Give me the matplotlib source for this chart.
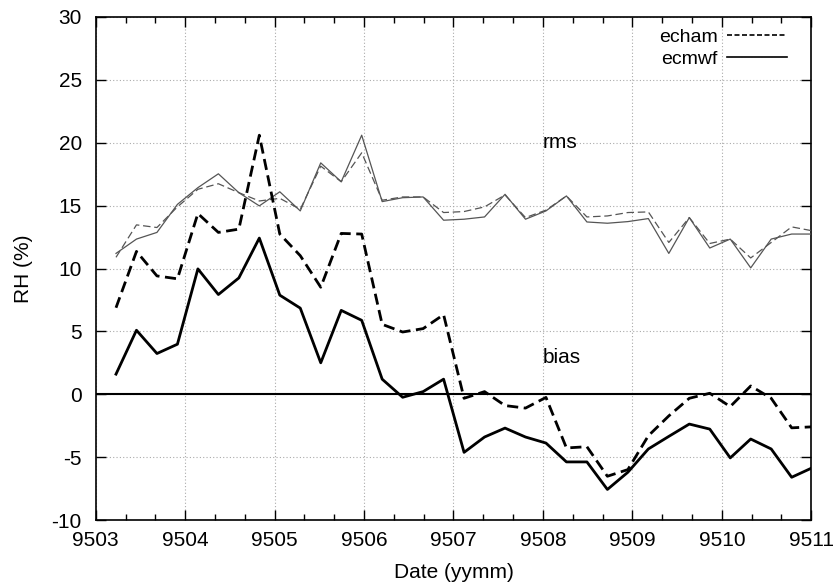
import numpy as np
import matplotlib
matplotlib.use("Agg")
import matplotlib.pyplot as plt
from matplotlib.ticker import MultipleLocator

plt.rcParams['font.family'] = ['Liberation Sans', 'DejaVu Sans']

# weekly samples, x in yymm month units
n_weeks = 35
x_start = 9503.227
week_step = 0.2289
x = x_start + week_step * np.arange(n_weeks)

bias_ecmwf = [1.6, 5.09, 3.24, 3.98, 9.97, 7.93, 9.25, 12.42, 7.88, 6.85,
              2.5, 6.67, 5.88, 1.2, -0.24, 0.21, 1.2, -4.62, -3.4, -2.69,
              -3.4, -3.88, -5.38, -5.38, -7.57, -6.2, -4.35, -3.35, -2.37, -2.77,
              -5.06, -3.56, -4.35, -6.6, -5.85]
bias_echam = [6.88, 11.36, 9.41, 9.18, 14.37, 12.87, 13.13, 20.6, 12.74, 11.02,
              8.51, 12.79, 12.74, 5.56, 4.95, 5.22, 6.33, -0.32, 0.21, -0.9,
              -1.1, -0.25, -4.27, -4.17, -6.52, -5.99, -3.3, -1.72, -0.32, 0.08,
              -0.98, 0.66, -0.32, -2.67, -2.59]
rms_ecmwf = [11.2, 12.34, 12.87, 15.1, 16.43, 17.53, 16.03, 14.98, 16.1, 14.58,
             18.4, 16.9, 20.6, 15.32, 15.63, 15.69, 13.84, 13.92, 14.1, 15.9,
             13.92, 14.58, 15.77, 13.7, 13.6, 13.73, 13.97, 11.2, 14.05, 11.63,
             12.34, 10.05, 12.34, 12.74, 12.74]
rms_echam = [10.89, 13.47, 13.26, 14.9, 16.3, 16.74, 16.03, 15.37, 15.58, 14.71,
             18.14, 16.9, 19.2, 15.43, 15.69, 15.69, 14.45, 14.53, 14.9, 15.85,
             14.05, 14.64, 15.77, 14.1, 14.18, 14.45, 14.5, 12.07, 14.05, 11.99,
             12.34, 10.84, 12.07, 13.31, 13.0]

xticks = [9503, 9504, 9505, 9506, 9507, 9508, 9509, 9510, 9511]
yticks = [-10, -5, 0, 5, 10, 15, 20, 25, 30]

fig = plt.figure(figsize=(8.35, 5.86), dpi=100)
ax = fig.add_axes([0.1146, 0.1126, 0.9716 - 0.1146, 0.971 - 0.1126])

ax.axhline(0, color='black', lw=1.5, zorder=2)

ax.plot(x, rms_echam, color='#555555', lw=0.9, dashes=(6, 3), zorder=3)
ax.plot(x, rms_ecmwf, color='#555555', lw=0.9, zorder=3)
ax.plot(x, bias_echam, color='black', lw=2.0, dashes=(4, 2), zorder=4)
ax.plot(x, bias_ecmwf, color='black', lw=2.0, zorder=4)

# legend proxies
ax.plot([], [], color='black', lw=1.2, dashes=(3, 1.5), label='echam')
ax.plot([], [], color='black', lw=1.2, label='ecmwf')
h, l = ax.get_legend_handles_labels()
ax.legend(h[-2:], l[-2:], loc='upper right', frameon=False, markerfirst=False,
          fontsize=14, handlelength=3.05, handletextpad=0.5, labelspacing=0.2,
          borderaxespad=0.2, bbox_to_anchor=(0.982, 1.0))

ax.set_xlim(9503, 9511)
ax.set_ylim(-10, 30)
ax.set_xticks(xticks)
ax.set_yticks(yticks)
ax.set_xticklabels([str(t) for t in xticks])
ax.set_yticklabels([str(t) for t in yticks])
ax.xaxis.set_minor_locator(MultipleLocator(1 / 3))

ax.tick_params(which='both', direction='in', top=True, right=True,
               labelsize=15, width=1)
ax.tick_params(which='major', length=7)
ax.tick_params(which='minor', length=4)
ax.tick_params(axis='y', pad=10)
ax.tick_params(axis='x', pad=8)

ax.grid(True, which='major', color='#aaaaaa', lw=0.8, ls=(0, (1, 2)))
for s in ax.spines.values():
    s.set_linewidth(1.2)

ax.text(9508, 20, 'rms', fontsize=15, ha='left', va='center')
ax.text(9508, 2.95, 'bias', fontsize=15, ha='left', va='center')

ax.set_xlabel('Date (yymm)', fontsize=15, labelpad=9)
ax.set_ylabel('RH (%)', fontsize=15, labelpad=13)

fig.savefig('out.png', dpi=100)
